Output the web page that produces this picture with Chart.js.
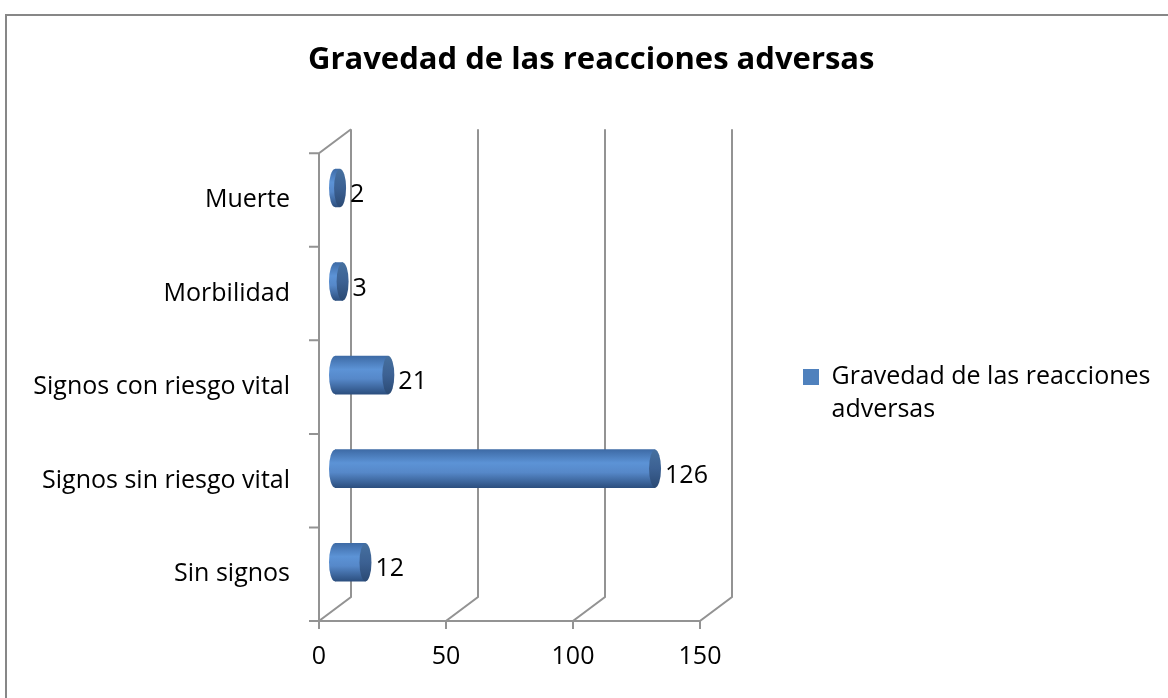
<!DOCTYPE html>
<html>
<head>
<meta charset="utf-8">
<script src="https://cdn.jsdelivr.net/npm/chart.js@4.4.0/dist/chart.umd.min.js"></script>
<style>
  html, body { margin: 0; padding: 0; background: #fff; }
  canvas { display: block; }
</style>
</head>
<body>
<canvas id="myChart" width="1168" height="698"></canvas>
<script>
// datos
var categorias = ['Muerte', 'Morbilidad', 'Signos con riesgo vital', 'Signos sin riesgo vital', 'Sin signos'];
var casos = [2, 3, 21, 126, 12];
var ticksX = [0, 50, 100, 150];
var titulo = 'Gravedad de las reacciones adversas';
var leyenda = ['Gravedad de las reacciones', 'adversas'];

var fuente = "'Open Sans', sans-serif";
var fondo = { x: 32, y: -24 };   // profundidad de la caja 3D
var grosor = 38;                  // alto de los cilindros
var gris = '#939393';

function degradado(ctx, yc, h) {
    var g = ctx.createLinearGradient(0, yc - h / 2, 0, yc + h / 2);
    g.addColorStop(0, '#3e6ba6');
    g.addColorStop(0.35, '#5c93d6');
    g.addColorStop(0.6, '#5688c9');
    g.addColorStop(1, '#2c4f7f');
    return g;
}

// borde del marco
var marco = {
    id: 'marco',
    beforeDraw: function(chart) {
        var ctx = chart.ctx;
        ctx.save();
        ctx.fillStyle = '#fff';
        ctx.fillRect(0, 0, chart.width, chart.height);
        ctx.strokeStyle = '#878787';
        ctx.lineWidth = 2;
        ctx.beginPath();
        ctx.moveTo(6, chart.height);
        ctx.lineTo(6, 15);
        ctx.lineTo(chart.width, 15);
        ctx.stroke();
        ctx.restore();
    }
};

// paredes, rejilla y cilindros
var caja3d = {
    id: 'caja3d',
    beforeDatasetsDraw: function(chart) {
        var ctx = chart.ctx, a = chart.chartArea;
        var x = chart.scales.x, y = chart.scales.y;
        var paso = a.height / categorias.length;
        ctx.save();
        ctx.strokeStyle = gris;
        ctx.lineWidth = 2;
        ctx.beginPath();
        ticksX.forEach(function(v) {
            var px = x.getPixelForValue(v);
            ctx.moveTo(px, a.bottom + 8);
            ctx.lineTo(px, a.bottom);
            ctx.lineTo(px + fondo.x, a.bottom + fondo.y);
            ctx.lineTo(px + fondo.x, a.top + fondo.y);
        });
        ctx.moveTo(a.left, a.bottom);
        ctx.lineTo(a.left, a.top);
        ctx.lineTo(a.left + fondo.x, a.top + fondo.y);
        ctx.moveTo(a.left - 10, a.bottom);
        ctx.lineTo(x.getPixelForValue(ticksX[ticksX.length - 1]), a.bottom);
        for (var i = 0; i < categorias.length; i++) {
            var py = y.getPixelForValue(i) - paso / 2;
            ctx.moveTo(a.left - 10, py);
            ctx.lineTo(a.left, py);
        }
        ctx.stroke();
        ctx.restore();
        ctx.save();
        ctx.translate(fondo.x / 2, fondo.y / 2);
    },
    afterDatasetsDraw: function(chart) {
        var ctx = chart.ctx;
        var meta = chart.getDatasetMeta(0);
        meta.data.forEach(function(el, i) {
            var h = el.height, r = 6;
            // extremo izquierdo redondeado
            ctx.fillStyle = degradado(ctx, el.y, h);
            ctx.beginPath();
            ctx.ellipse(el.base, el.y, r, h / 2, 0, 0, Math.PI * 2);
            ctx.fill();
            // tapa derecha
            var g = ctx.createLinearGradient(0, el.y - h / 2, 0, el.y + h / 2);
            g.addColorStop(0, '#46709f');
            g.addColorStop(0.5, '#3c6193');
            g.addColorStop(1, '#2b4a74');
            ctx.fillStyle = g;
            ctx.beginPath();
            ctx.ellipse(el.x, el.y, r, h / 2, 0, 0, Math.PI * 2);
            ctx.fill();
            // etiqueta
            ctx.fillStyle = '#000';
            ctx.font = '25px ' + fuente;
            ctx.textAlign = 'left';
            ctx.textBaseline = 'middle';
            ctx.fillText(String(casos[i]), el.x + r + 4, el.y + 7);
        });
        ctx.restore();
    }
};

var ctx = document.getElementById('myChart').getContext('2d');
var myChart = new Chart(ctx, {
    type: 'bar',
    data: {
        labels: categorias,
        datasets: [{
            label: titulo,
            data: casos,
            backgroundColor: function(c) {
                var ys = c.chart.scales.y;
                if (c.type !== 'data' || !ys) return '#4f81bd';
                return degradado(c.chart.ctx, ys.getPixelForValue(c.dataIndex), grosor);
            },
            borderWidth: 0,
            barThickness: grosor
        }]
    },
    options: {
        responsive: false,
        animation: false,
        devicePixelRatio: 1,
        indexAxis: 'y',
        layout: { padding: { left: 22, right: 0, top: 0, bottom: 0 } },
        scales: {
            x: {
                min: 0,
                max: 150,
                afterBuildTicks: function(s) { s.ticks = ticksX.map(function(v) { return { value: v }; }); },
                afterFit: function(s) { s.height = 77; },
                grid: { display: false, drawTicks: false },
                border: { display: false },
                ticks: { padding: 21, color: '#000', font: { family: fuente, size: 25 } }
            },
            y: {
                afterFit: function(s) { s.width = 297; },
                grid: { display: false, drawTicks: false },
                border: { display: false },
                ticks: { padding: 29, color: '#000', font: { family: fuente, size: 25 } }
            }
        },
        plugins: {
            title: {
                display: true,
                text: titulo,
                color: '#000',
                font: { family: fuente, size: 31, weight: 'bold', lineHeight: 1.2 },
                padding: { top: 42, bottom: 74 }
            },
            legend: {
                position: 'right',
                fullSize: false,
                maxWidth: 600,
                title: { display: true, text: ' ', font: { size: 10, lineHeight: 2 }, padding: 0 },
                labels: {
                    color: '#000',
                    font: { family: fuente, size: 25, lineHeight: 1.3 },
                    boxWidth: 16,
                    boxHeight: 16,
                    padding: 103,
                    generateLabels: function(chart) {
                        var items = Chart.defaults.plugins.legend.labels.generateLabels(chart);
                        items.forEach(function(it) {
                            it.text = leyenda;
                            it.fillStyle = '#4f81bd';
                            it.lineWidth = 0;
                        });
                        return items;
                    }
                }
            },
            tooltip: { enabled: false }
        }
    },
    plugins: [marco, caja3d]
});

// dejar el borde derecho del area en 700 px
myChart.options.layout.padding.right = Math.max(0, myChart.width - 700 - myChart.legend.width);
myChart.update();
</script>
</body>
</html>
